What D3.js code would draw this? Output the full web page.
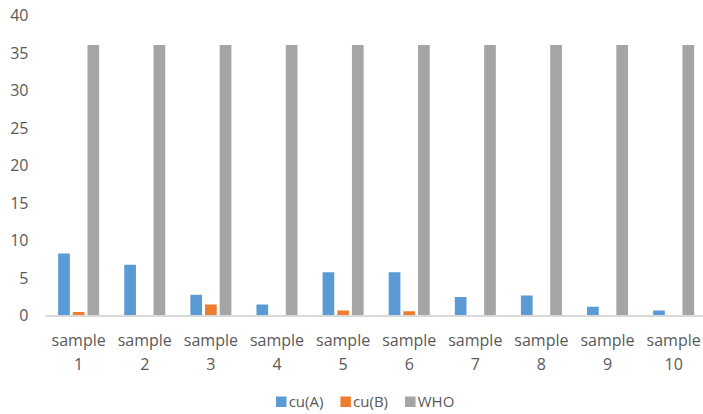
<!DOCTYPE html>
<html>
<head>
<meta charset="utf-8">
<script src="https://cdn.jsdelivr.net/npm/d3@7"></script>
<style>
  html, body { margin: 0; padding: 0; background: #fff; }
  svg { display: block; }
  text { font-family: "Open Sans", Lato, "Liberation Sans", sans-serif; fill: #595959; }
</style>
</head>
<body>
<svg id="chart" width="703" height="414"></svg>
<script>
// Copper concentration per sample, compared with the WHO guideline
const categories = ["sample 1", "sample 2", "sample 3", "sample 4", "sample 5",
                    "sample 6", "sample 7", "sample 8", "sample 9", "sample 10"];
const seriesNames = ["cu(A)", "cu(B)", "WHO"];
const cuA = [8.2, 6.7, 2.7, 1.4, 5.7, 5.7, 2.4, 2.6, 1.1, 0.6];
const cuB = [0.4, 0, 1.4, 0, 0.6, 0.5, 0, 0, 0, 0];
const who = [36, 36, 36, 36, 36, 36, 36, 36, 36, 36];
const yTicks = [0, 5, 10, 15, 20, 25, 30, 35, 40];
const colors = ["#5B9BD5", "#ED7D31", "#A5A5A5"];

const seriesValues = [cuA, cuB, who];
const svg = d3.select("#chart");
const FONT = '"Open Sans", Lato, "Liberation Sans", sans-serif';

const x = d3.scaleBand().domain(categories).range([45.6, 706.7]).paddingInner(0).paddingOuter(0);
const inner = d3.scaleBand().domain(seriesNames).range([0, 44]);
const y = d3.scaleLinear().domain([0, 40]).range([315, 15]);

// y-axis tick labels (no axis line, no gridlines)
const yAxis = d3.axisLeft(y).tickValues(yTicks).tickSize(0).tickPadding(0);
const gy = svg.append("g").attr("transform", "translate(28.5,0.5)").call(yAxis);
gy.select(".domain").remove();
gy.selectAll("text")
  .attr("font-size", 16)
  .style("font-family", FONT)
  .attr("fill", "#595959");

// bars
const barW = 11.7;
seriesNames.forEach((name, si) => {
  svg.append("g").selectAll("rect")
    .data(categories.map((c, i) => ({ c, v: seriesValues[si][i] })))
    .join("rect")
    .attr("x", d => x(d.c) + (x.bandwidth() - inner.range()[1]) / 2 + inner(name) + (inner.bandwidth() - barW) / 2)
    .attr("y", d => y(d.v))
    .attr("width", barW)
    .attr("height", d => y(0) - y(d.v))
    .attr("fill", colors[si]);
});

// category axis line
svg.append("line")
  .attr("x1", x.range()[0]).attr("x2", x.range()[1])
  .attr("y1", y(0) + 1).attr("y2", y(0) + 1)
  .attr("stroke", "#D9D9D9").attr("stroke-width", 2);

// category labels, wrapped on two lines
const catG = svg.append("g");
categories.forEach(c => {
  const parts = c.split(" ");
  const cx = x(c) + x.bandwidth() / 2;
  const t = catG.append("text")
    .attr("text-anchor", "middle")
    .attr("font-size", 16);
  t.append("tspan").attr("x", cx).attr("y", 345.5).text(parts[0]);
  t.append("tspan").attr("x", cx).attr("y", 370).text(parts[1]);
});

// legend
const legend = svg.append("g");
let lx = 276;
seriesNames.forEach((name, i) => {
  legend.append("rect")
    .attr("x", lx).attr("y", 396.5)
    .attr("width", 10.5).attr("height", 10.5)
    .attr("fill", colors[i]);
  const t = legend.append("text")
    .attr("x", lx + 12.7).attr("y", 407)
    .attr("font-size", 15)
    .text(name);
  lx += 12.7 + t.node().getComputedTextLength() + 17;
});
</script>
</body>
</html>
